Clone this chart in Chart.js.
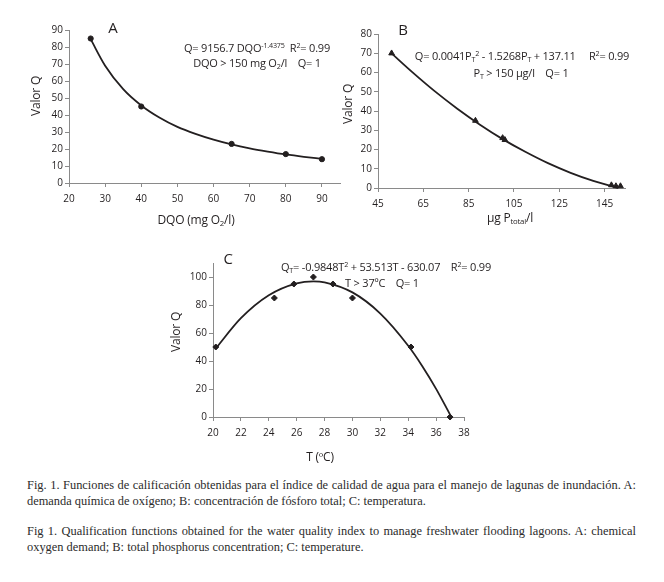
<!DOCTYPE html>
<html>
<head>
<meta charset="utf-8">
<script src="https://cdn.jsdelivr.net/npm/chart.js@4.4.0/dist/chart.umd.min.js"></script>
<style>
  body { margin: 0; background: #fff; }
  #page { position: relative; width: 664px; height: 582px; background: #fff; color: #231f20; overflow: hidden; }
  canvas { position: absolute; }
  .lbl { position: absolute; transform: translate(-50%, -50%); white-space: nowrap; font-family: "Open Sans", sans-serif; font-size: 11px; letter-spacing: -0.2px; line-height: 1; }
  .big { font-size: 15px; }
  .ttl { font-size: 12px; }
  .rot { transform: translate(-50%, -50%) rotate(-90deg); }
  .lbl sup { font-size: 65%; vertical-align: 0.55em; line-height: 0; }
  .lbl sub { font-size: 65%; vertical-align: -0.3em; line-height: 0; }
  .cap { position: absolute; left: 27px; width: 609px; font-family: "Liberation Serif", "Times New Roman", serif; font-size: 12.4px; line-height: 16px; text-align: justify; color: #2b2b2b; }
</style>
</head>
<body>
<div id="page">
  <canvas id="chartA" style="left:0px;top:0px" width="345" height="235"></canvas>
  <canvas id="chartB" style="left:330px;top:0px" width="334" height="235"></canvas>
  <canvas id="chartC" style="left:180px;top:240px" width="320" height="230"></canvas>

  <!-- A -->
  <div class="lbl big" style="left:113px;top:27px">A</div>
  <div class="lbl" style="left:257px;top:47px">Q= 9156.7 DQO<sup>-1.4375</sup>&nbsp; R<sup>2</sup>= 0.99</div>
  <div class="lbl" style="left:257px;top:62px">DQO &gt; 150 mg O<sub>2</sub>/l &nbsp;&nbsp; Q= 1</div>
  <div class="lbl ttl" style="left:196px;top:220px">DQO (mg O<sub>2</sub>/l)</div>
  <div class="lbl ttl rot" style="left:36px;top:96px">Valor Q</div>

  <!-- B -->
  <div class="lbl big" style="left:403px;top:29px">B</div>
  <div class="lbl" style="left:522px;top:55px">Q= 0.0041P<sub>T</sub><sup>2</sup> - 1.5268P<sub>T</sub> + 137.11 &nbsp;&nbsp;&nbsp; R<sup>2</sup>= 0.99</div>
  <div class="lbl" style="left:521px;top:72px">P<sub>T</sub> &gt; 150 µg/l &nbsp;&nbsp; Q= 1</div>
  <div class="lbl ttl" style="left:510px;top:218px">µg P<sub>total</sub>/l</div>
  <div class="lbl ttl rot" style="left:348px;top:104px">Valor Q</div>

  <!-- C -->
  <div class="lbl big" style="left:228px;top:258px">C</div>
  <div class="lbl" style="left:386px;top:266px">Q<sub>T</sub>= -0.9848T<sup>2</sup> + 53.513T - 630.07 &nbsp;&nbsp; R<sup>2</sup>= 0.99</div>
  <div class="lbl" style="left:382px;top:282px">T &gt; 37ºC &nbsp;&nbsp; Q= 1</div>
  <div class="lbl ttl" style="left:320px;top:457px">T (ºC)</div>
  <div class="lbl ttl rot" style="left:176px;top:332px">Valor Q</div>

  <div class="cap" style="top:477px">Fig. 1. Funciones de calificación obtenidas para el índice de calidad de agua para el manejo de lagunas de inundación. A: demanda química de oxígeno; B: concentración de fósforo total; C: temperatura.</div>
  <div class="cap" style="top:523px">Fig 1. Qualification functions obtained for the water quality index to manage freshwater flooding lagoons. A: chemical oxygen demand; B: total phosphorus concentration; C: temperature.</div>
</div>

<script>
// A: DQO
const dqoX = [26, 40, 65, 80, 90];
const dqoQ = [85, 45, 23, 17, 14];
const dqoFitX = [26, 30, 35, 40, 45, 50, 55, 60, 65, 70, 75, 80, 85, 90];
const dqoFitQ = [84.6, 69, 55.2, 45.6, 38.5, 33, 28.9, 25.5, 22.7, 20.4, 18.5, 16.8, 15.4, 14.2];
const ticksAx = [20, 30, 40, 50, 60, 70, 80, 90];
const ticksAy = [0, 10, 20, 30, 40, 50, 60, 70, 80, 90];

// B: phosphorus
const ptX = [51, 88, 100, 101, 148, 150, 152];
const ptQ = [70, 35, 26, 25, 1.5, 1, 1];
const ptFitX = [51, 60, 70, 80, 90, 100, 110, 120, 130, 140, 150, 151];
const ptFitQ = [69.9, 60.3, 50.3, 41.2, 32.9, 25.4, 18.8, 12.9, 7.9, 3.7, 0.3, 0];
const ticksBx = [45, 65, 85, 105, 125, 145];
const ticksBy = [0, 10, 20, 30, 40, 50, 60, 70, 80];

// C: temperature
const tX = [20.2, 24.4, 25.8, 27.2, 28.6, 30, 34.2, 37];
const tQ = [50, 85, 95, 100, 95, 85, 50, 0];
const tFitX = [20.2, 22, 24, 26, 27.2, 28, 30, 32, 34, 35, 36, 37];
const tFitQ = [49, 70.6, 87, 95.5, 96.9, 96.2, 89, 73.9, 50.9, 36.5, 20.1, 1.7];
const ticksCx = [20, 22, 24, 26, 28, 30, 32, 34, 36, 38];
const ticksCy = [0, 20, 40, 60, 80, 100];

const ink = '#231f20';
const axisGray = '#8a8a8a';

function toXY(xs, ys) {
  return xs.map((x, i) => ({ x: x, y: ys[i] }));
}

// builds one scatter panel with its fit curve
function makePanel(id, cfg) {
  const axis = (range, ticks, isX) => ({
    type: 'linear',
    min: range[0],
    max: range[1],
    afterBuildTicks: s => { s.ticks = ticks.map(v => ({ value: v })); },
    afterFit: s => {
      if (isX) s.height = cfg.xHeight; else s.width = cfg.yWidth;
    },
    border: { color: axisGray, width: 1 },
    grid: { drawOnChartArea: false, drawTicks: true, tickLength: 4, color: axisGray },
    ticks: {
      color: ink,
      font: { family: 'Open Sans', size: 10 },
      padding: isX ? 6 : 2,
      maxRotation: 0,
      autoSkip: false
    }
  });

  new Chart(document.getElementById(id), {
    type: 'scatter',
    data: {
      datasets: [{
        data: toXY(cfg.fitX, cfg.fitY),
        showLine: true,
        borderColor: ink,
        borderWidth: 1.8,
        pointRadius: 0,
        cubicInterpolationMode: 'monotone',
        clip: false
      }, {
        data: toXY(cfg.x, cfg.y),
        pointStyle: cfg.marker,
        pointRadius: cfg.radius,
        backgroundColor: ink,
        borderColor: ink,
        borderWidth: 1,
        clip: false
      }]
    },
    options: {
      responsive: false,
      animation: false,
      layout: { padding: cfg.padding },
      plugins: { legend: { display: false }, tooltip: { enabled: false } },
      scales: {
        x: axis(cfg.xRange, cfg.xTicks, true),
        y: axis(cfg.yRange, cfg.yTicks, false)
      }
    }
  });
}

makePanel('chartA', {
  x: dqoX, y: dqoQ, fitX: dqoFitX, fitY: dqoFitQ,
  xRange: [20, 95], yRange: [0, 90], xTicks: ticksAx, yTicks: ticksAy,
  marker: 'circle', radius: 2.6,
  padding: { top: 30, right: 2, left: 0, bottom: 0 }, yWidth: 69, xHeight: 52
});

makePanel('chartB', {
  x: ptX, y: ptQ, fitX: ptFitX, fitY: ptFitQ,
  xRange: [45, 154], yRange: [0, 80], xTicks: ticksBx, yTicks: ticksBy,
  marker: 'triangle', radius: 3.3,
  padding: { top: 34, right: 39, left: 0, bottom: 0 }, yWidth: 48, xHeight: 47
});

makePanel('chartC', {
  x: tX, y: tQ, fitX: tFitX, fitY: tFitQ,
  xRange: [20, 38], yRange: [0, 110], xTicks: ticksCx, yTicks: ticksCy,
  marker: 'rectRot', radius: 3,
  padding: { top: 23, right: 36, left: 0, bottom: 0 }, yWidth: 33, xHeight: 53
});
</script>
</body>
</html>
